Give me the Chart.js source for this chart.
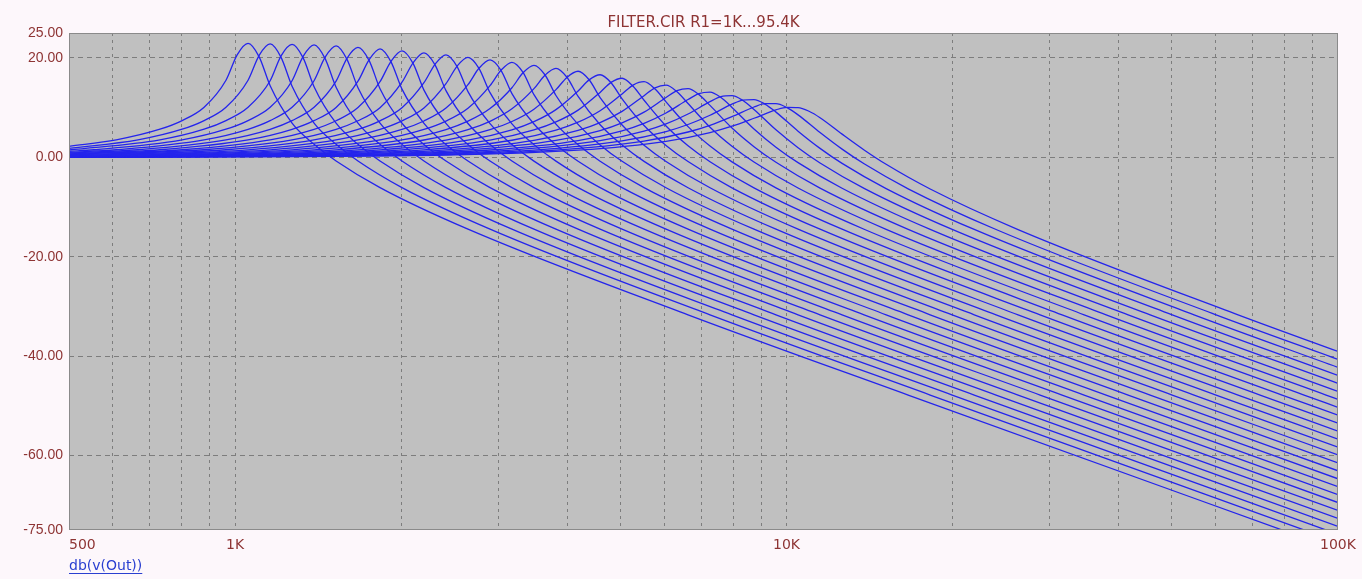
<!DOCTYPE html>
<html>
<head>
<meta charset="utf-8">
<title>FILTER.CIR</title>
<script src="https://cdn.jsdelivr.net/npm/chart.js@4.4.1/dist/chart.umd.min.js"></script>
<style>
  html, body { margin: 0; padding: 0; background: #fdf7fb; }
  #wrap { width: 1362px; height: 579px; }
</style>
</head>
<body>
<div id="wrap"><canvas id="filterChart"></canvas></div>
<script>
// Chart text
const titleText = "FILTER.CIR R1=1K...95.4K";
const traceName = "db(v(Out))";

// Axis ticks
const xLabelValues = [500, 1000, 10000, 100000];
const xLabelText = ["500", "1K", "10K", "100K"];
const xGridValues = [600, 700, 800, 900, 1000, 2000, 3000, 4000, 5000, 6000, 7000, 8000, 9000,
  10000, 20000, 30000, 40000, 50000, 60000, 70000, 80000, 90000];
const yTickValues = [25, 20, 0, -20, -40, -60, -75];

// One trace per R1 step, [frequency Hz, dB]
const curve01 = [[500,2.2],[609,3.5],[731,5.64],[802,7.38],[879,10.07],[963,15.5],[1009,20.6],[1056,22.9],[1106,20.2],[1158,14.4],[1269,6.87],[1391,2.61],[1525,-0.75],[1832,-6.1],[2645,-14.46],[6629,-31.7],[16619,-47.84],[100000,-79.05]];
const curve02 = [[500,1.8],[667,3.5],[802,5.64],[879,7.38],[963,10.06],[1056,15.5],[1106,20.5],[1158,22.8],[1212,20.1],[1269,14.3],[1391,6.87],[1525,2.61],[1671,-0.75],[2008,-6.1],[2900,-14.46],[7266,-31.7],[18220,-47.84],[100000,-77.45]];
const curve03 = [[500,1.46],[731,3.5],[879,5.64],[963,7.38],[1056,10.06],[1158,15.4],[1212,20.4],[1269,22.7],[1329,20.0],[1391,14.2],[1525,6.86],[1671,2.6],[1832,-0.75],[2201,-6.1],[3178,-14.46],[7964,-31.7],[19975,-47.84],[100000,-75.86]];
const curve04 = [[500,1.2],[555,1.51],[802,3.5],[963,5.64],[1056,7.38],[1158,10.05],[1269,15.4],[1329,20.3],[1391,22.6],[1456,19.9],[1525,14.1],[1671,6.86],[1832,2.6],[2008,-0.75],[2413,-6.1],[3484,-14.46],[8730,-31.7],[21899,-47.84],[100000,-74.27]];
const curve05 = [[500,0.99],[609,1.51],[879,3.5],[1056,5.63],[1158,7.37],[1269,10.05],[1391,15.4],[1456,20.1],[1525,22.4],[1596,19.7],[1671,14.0],[1832,6.85],[2008,2.59],[2201,-0.76],[2645,-6.1],[3819,-14.46],[9569,-31.7],[23988,-47.84],[100000,-72.67]];
const curve06 = [[500,0.81],[667,1.51],[963,3.5],[1158,5.63],[1269,7.37],[1391,10.04],[1525,15.3],[1596,19.9],[1671,22.1],[1750,19.5],[1832,13.8],[2008,6.84],[2201,2.58],[2413,-0.76],[2900,-6.11],[4189,-14.46],[10494,-31.7],[26298,-47.84],[100000,-71.07]];
const curve07 = [[500,0.67],[731,1.51],[1056,3.5],[1269,5.63],[1391,7.36],[1525,10.02],[1671,15.3],[1750,19.6],[1832,21.8],[1918,19.2],[2008,13.7],[2201,6.83],[2413,2.57],[2645,-0.76],[3178,-6.11],[4592,-14.46],[11503,-31.7],[28831,-47.84],[100000,-69.48]];
const curve08 = [[500,0.56],[802,1.51],[1158,3.5],[1391,5.62],[1525,7.35],[1671,10.01],[1832,15.2],[1918,19.3],[2008,21.4],[2103,18.9],[2201,13.5],[2413,6.81],[2645,2.57],[2900,-0.77],[3484,-6.11],[5033,-14.46],[12612,-31.7],[31600,-47.84],[100000,-67.89]];
const curve09 = [[500,0.46],[879,1.51],[1269,3.5],[1525,5.62],[1671,7.34],[1832,9.98],[2008,15.1],[2103,19.0],[2201,21.0],[2305,18.6],[2413,13.4],[2645,6.79],[2900,2.56],[3178,-0.77],[3819,-6.11],[5517,-14.46],[13826,-31.7],[34650,-47.84],[100000,-66.29]];
const curve10 = [[500,0.38],[555,0.47],[963,1.51],[1391,3.49],[1671,5.61],[1832,7.33],[2008,9.96],[2201,15.0],[2305,18.7],[2413,20.6],[2526,18.3],[2645,13.2],[2900,6.76],[3178,2.55],[3484,-0.78],[4189,-6.11],[6047,-14.46],[15158,-31.7],[37980,-47.84],[100000,-64.7]];
const curve11 = [[500,0.32],[609,0.47],[1056,1.5],[1525,3.49],[1832,5.61],[2008,7.32],[2201,9.93],[2413,14.8],[2526,18.3],[2645,20.1],[2769,17.9],[2900,13.0],[3178,6.73],[3484,2.54],[3819,-0.78],[4592,-6.11],[6629,-14.46],[16619,-31.7],[41640,-47.84],[100000,-63.09]];
const curve12 = [[500,0.26],[667,0.47],[1158,1.5],[1671,3.49],[2008,5.6],[2201,7.3],[2413,9.89],[2645,14.6],[2769,17.9],[2900,19.6],[3036,17.5],[3178,12.8],[3484,6.7],[3819,2.53],[4189,-0.79],[5033,-6.12],[7266,-14.46],[18220,-31.7],[45650,-47.84],[100000,-61.51]];
const curve13 = [[500,0.22],[731,0.47],[1269,1.5],[1832,3.49],[2201,5.59],[2413,7.28],[2645,9.85],[2900,14.4],[3036,17.5],[3178,19.1],[3328,17.1],[3484,12.6],[3819,6.66],[4189,2.51],[4592,-0.8],[5517,-6.12],[7964,-14.47],[19975,-31.7],[50050,-47.84],[100000,-59.91]];
const curve14 = [[500,0.18],[802,0.47],[1391,1.5],[2008,3.48],[2413,5.58],[2645,7.26],[2900,9.8],[3178,13.99],[3328,17.0],[3484,18.5],[3647,16.6],[3819,12.42],[4189,6.61],[4592,2.48],[5033,-0.82],[6047,-6.13],[8730,-14.47],[21899,-31.7],[54830,-47.84],[100000,-58.32]];
const curve15 = [[500,0.15],[879,0.47],[1525,1.5],[2201,3.47],[2645,5.56],[2900,7.23],[3178,9.74],[3484,13.8],[3647,16.5],[3819,17.9],[3998,16.1],[4189,12.23],[4592,6.55],[5033,2.45],[5517,-0.83],[6629,-6.13],[9569,-14.47],[23988,-31.7],[60100,-47.84],[100000,-56.73]];
const curve16 = [[500,0.13],[963,0.47],[1671,1.5],[2413,3.46],[2900,5.54],[3178,7.2],[3484,9.67],[3819,13.6],[3998,16.07],[4189,17.3],[4386,15.6],[4592,12.02],[5033,6.48],[5517,2.42],[6047,-0.85],[7266,-6.14],[10494,-14.47],[26298,-31.7],[65890,-47.84],[100000,-55.12]];
const curve17 = [[500,0.1],[1056,0.47],[1832,1.5],[2645,3.45],[3178,5.52],[3484,7.16],[3819,9.58],[4189,13.33],[4386,15.57],[4592,16.6],[4807,15.0],[5033,11.76],[5517,6.39],[6047,2.38],[6629,-0.87],[7964,-6.15],[11503,-14.48],[28831,-31.7],[72240,-47.84],[100000,-53.52]];
const curve18 = [[500,0.09],[1158,0.47],[2008,1.5],[2900,3.44],[3484,5.5],[3819,7.11],[4189,9.48],[4592,13.05],[4807,15.06],[5033,15.9],[5270,14.27],[5517,11.47],[6047,6.28],[6629,2.32],[7266,-0.89],[8730,-6.16],[12612,-14.48],[31600,-31.7],[79170,-47.84],[100000,-51.91]];
const curve19 = [[500,0.07],[1269,0.47],[2201,1.49],[3178,3.42],[3819,5.45],[4189,7.05],[4592,9.36],[5033,12.73],[5270,14.52],[5517,15.2],[5776,13.73],[6047,11.15],[6629,6.17],[7266,2.26],[7964,-0.93],[9569,-6.17],[13826,-14.49],[34650,-31.7],[86800,-47.84],[100000,-50.32]];
const curve20 = [[500,0.06],[1391,0.47],[2413,1.48],[3484,3.4],[4189,5.41],[4592,6.98],[5033,9.23],[5517,12.39],[5776,13.97],[6047,14.5],[6331,13.18],[6629,10.81],[7266,6.03],[7964,2.2],[8730,-0.97],[10494,-6.19],[15158,-14.5],[37980,-31.7],[95140,-47.84],[100000,-48.71]];
const curve21 = [[500,0.05],[1525,0.46],[2645,1.47],[3819,3.38],[4592,5.37],[5033,6.91],[5517,9.07],[6047,12.01],[6331,13.39],[6629,13.8],[6940,12.6],[7266,10.43],[7964,5.88],[8730,2.13],[9569,-1.02],[11503,-6.21],[16619,-14.5],[41640,-31.7],[100000,-47.11]];
const curve22 = [[500,0.04],[1671,0.46],[2900,1.46],[4189,3.36],[5033,5.32],[5517,6.82],[6047,8.9],[6629,11.61],[6940,12.8],[7266,13.1],[7607,12.01],[7964,10.03],[8730,5.7],[9569,2.03],[10494,-1.08],[12612,-6.23],[18220,-14.51],[45650,-31.7],[100000,-45.5]];
const curve23 = [[500,0.04],[1832,0.46],[3178,1.45],[4592,3.33],[5517,5.26],[6047,6.72],[6629,8.71],[7266,11.19],[7607,12.21],[7964,12.4],[8339,11.41],[8730,9.61],[9569,5.51],[10494,1.92],[11503,-1.15],[13826,-6.26],[19975,-14.52],[50050,-31.7],[100000,-43.89]];
const curve24 = [[500,0.03],[2008,0.46],[3484,1.44],[5033,3.29],[6047,5.18],[6629,6.59],[7266,8.45],[7964,10.67],[8339,11.5],[8730,11.6],[9140,10.7],[9569,9.08],[10494,5.25],[11503,1.79],[12612,-1.24],[15158,-6.3],[21899,-14.53],[54830,-31.7],[100000,-42.29]];
const curve25 = [[500,0.03],[2201,0.46],[3819,1.43],[5517,3.25],[6629,5.08],[7266,6.43],[7964,8.17],[8730,10.11],[9140,10.78],[9569,10.8],[10023,9.98],[10494,8.53],[11503,4.97],[12612,1.63],[13826,-1.32],[16619,-6.35],[23988,-14.54],[60100,-31.7],[100000,-40.67]];
const curve26 = [[500,0.02],[2413,0.45],[4189,1.42],[6047,3.2],[7266,4.97],[7964,6.25],[8730,7.85],[9569,9.53],[10023,10.05],[10494,10.0],[10987,9.25],[11503,7.95],[12612,4.65],[13826,1.47],[15158,-1.42],[18220,-6.39],[26298,-14.55],[65890,-31.7],[100000,-39.07]];

const curves = [curve01, curve02, curve03, curve04, curve05, curve06, curve07, curve08, curve09,
  curve10, curve11, curve12, curve13, curve14, curve15, curve16, curve17, curve18, curve19,
  curve20, curve21, curve22, curve23, curve24, curve25, curve26];

const labelColor = "#8e3434";
const gridColor = "#7d7d7d";
const traceColor = "#2424ec";

// Gray plot area, frame, x labels and trace name
const plotFrame = {
  id: "plotFrame",
  beforeDraw(chart) {
    const { ctx, chartArea: a } = chart;
    ctx.save();
    ctx.fillStyle = "#c0c0c0";
    ctx.fillRect(a.left, a.top, a.right - a.left, a.bottom - a.top);
    ctx.restore();
  },
  afterDraw(chart) {
    const { ctx, chartArea: a } = chart;
    const xs = chart.scales.x;
    ctx.save();
    ctx.strokeStyle = "#8a8a8a";
    ctx.lineWidth = 1;
    ctx.strokeRect(a.left + 0.5, a.top + 0.5, a.right - a.left - 1, a.bottom - a.top - 1);

    ctx.font = "14px 'DejaVu Sans', sans-serif";
    ctx.fillStyle = labelColor;
    ctx.textBaseline = "middle";
    xLabelValues.forEach((v, i) => {
      const px = xs.getPixelForValue(v);
      ctx.textAlign = i === 0 ? "left" : "center"; // first label sits right of the axis
      ctx.fillText(xLabelText[i], px, a.bottom + 15);
    });

    // trace name, blue and underlined
    ctx.fillStyle = "#2a3fd0";
    ctx.textAlign = "left";
    ctx.font = "14px 'DejaVu Sans', sans-serif";
    ctx.fillText(traceName, a.left, a.bottom + 36);
    const w = ctx.measureText(traceName).width;
    ctx.strokeStyle = "#2a3fd0";
    ctx.beginPath();
    ctx.moveTo(a.left, a.bottom + 43.5);
    ctx.lineTo(a.left + w, a.bottom + 43.5);
    ctx.stroke();
    ctx.restore();
  }
};

const ctx = document.getElementById("filterChart").getContext("2d");
const filterChart = new Chart(ctx, {
  type: "line",
  data: {
    datasets: curves.map((c, i) => ({
      label: traceName + " #" + (i + 1),
      data: c,
      borderColor: traceColor,
      borderWidth: 1.3,
      pointRadius: 0,
      fill: false,
      cubicInterpolationMode: "monotone",
    })),
  },
  options: {
    responsive: true,
    maintainAspectRatio: false,
    animation: false,
    layout: {
      padding: { top: 0, right: 24, bottom: 0, left: 0 },
    },
    plugins: {
      legend: { display: false },
      tooltip: { enabled: false },
      title: {
        display: true,
        text: titleText,
        fullSize: false,
        color: labelColor,
        font: { family: "'DejaVu Sans', sans-serif", size: 15, weight: "normal" },
        padding: { top: 14, bottom: 1 },
      },
    },
    scales: {
      x: {
        type: "logarithmic",
        min: 500,
        max: 100000,
        afterBuildTicks: (scale) => {
          scale.ticks = [500, ...xGridValues, 100000].map((v) => ({ value: v }));
        },
        afterFit: (scale) => {
          scale.height = 49;
        },
        ticks: { display: false },
        grid: {
          drawTicks: false,
          color: (c) => (c.tick.value === 500 || c.tick.value === 100000 ? "rgba(0,0,0,0)" : gridColor),
        },
        border: { display: false, dash: [3, 4] },
      },
      y: {
        type: "linear",
        min: -75,
        max: 25,
        afterBuildTicks: (scale) => {
          scale.ticks = yTickValues.map((v) => ({ value: v }));
        },
        afterFit: (scale) => {
          scale.width = 69;
        },
        ticks: {
          color: labelColor,
          padding: 6,
          autoSkip: false,
          font: { family: "'Liberation Sans', Arial, sans-serif", size: 14 },
          callback: (v) => Number(v).toFixed(2),
        },
        grid: {
          drawTicks: false,
          color: (c) => (c.tick.value === 25 || c.tick.value === -75 ? "rgba(0,0,0,0)" : gridColor),
        },
        border: { display: false, dash: [5, 4] },
      },
    },
  },
  plugins: [plotFrame],
});
</script>
</body>
</html>
